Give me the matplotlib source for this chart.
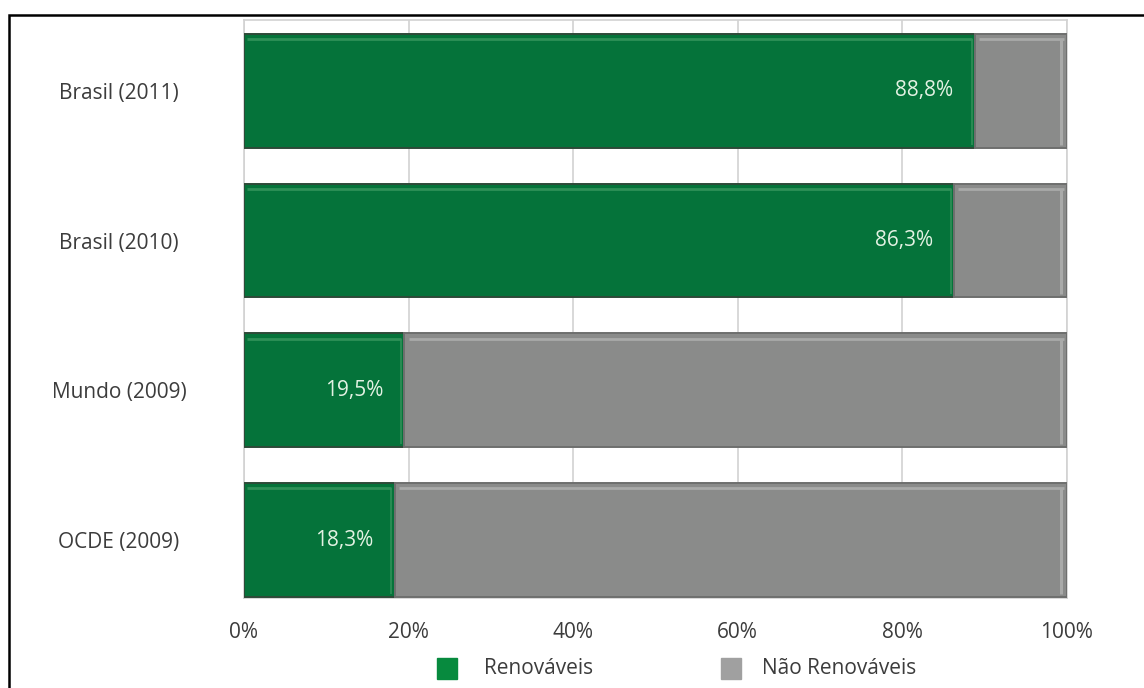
import matplotlib
matplotlib.use("Agg")
import matplotlib.pyplot as plt
from matplotlib.patches import Rectangle
from matplotlib.ticker import FixedLocator

# Participação de fontes renováveis na oferta interna de energia elétrica
categorias = ["OCDE (2009)", "Mundo (2009)", "Brasil (2010)", "Brasil (2011)"]
renovaveis = [18.3, 19.5, 86.3, 88.8]
nao_renovaveis = [100 - v for v in renovaveis]
rotulos = ["18,3%", "19,5%", "86,3%", "88,8%"]
ticks_x = [0, 20, 40, 60, 80, 100]
ticks_x_rotulos = ["0%", "20%", "40%", "60%", "80%", "100%"]

verde = "#05733a"
verde_claro = "#2f9158"
verde_escuro = "#2e4a38"
cinza = "#8a8b8a"
cinza_claro = "#a9aaa9"
cinza_escuro = "#6e6f6e"

plt.rcParams["font.family"] = ["Liberation Sans Narrow", "Open Sans", "DejaVu Sans"]
tam = 15
cor_texto = "#3c3c3c"

fig = plt.figure(figsize=(11.44, 6.88), dpi=100)
W, H = 1144, 688
ax = fig.add_axes([244 / W, 1 - 598 / H, (1067 - 244) / W, (598 - 20) / H])

altura = 0.76
y = list(range(len(categorias)))

ax.barh(y, renovaveis, height=altura, color=verde, edgecolor=verde_escuro,
        linewidth=1.4, zorder=3)
ax.barh(y, nao_renovaveis, left=renovaveis, height=altura, color=cinza,
        edgecolor=cinza_escuro, linewidth=1.4, zorder=3)

# brilho interno no topo e na lateral de cada segmento
for yi, r in zip(y, renovaveis):
    topo = yi + altura / 2 - 0.035
    ax.hlines(topo, 0.4, r - 0.4, color=verde_claro, lw=2.0, zorder=4)
    ax.vlines(r - 0.4, yi - altura / 2 + 0.02, topo, color=verde_claro, lw=1.2, zorder=4)
    ax.hlines(topo, r + 0.5, 99.6, color=cinza_claro, lw=2.0, zorder=4)
    ax.vlines(99.3, yi - altura / 2 + 0.02, topo, color=cinza_claro, lw=2.2, zorder=4)

for yi, r, txt in zip(y, renovaveis, rotulos):
    ax.text(r - 2.6, yi, txt, ha="right", va="center", color="#e3f2e3",
            fontsize=tam, zorder=5)

ax.set_xlim(0, 100)
ax.set_ylim(-0.387, 3.473)
ax.set_yticks(y)
ax.set_yticklabels(categorias, fontsize=tam, color=cor_texto)
ax.xaxis.set_major_locator(FixedLocator(ticks_x))
ax.set_xticklabels(ticks_x_rotulos, fontsize=tam, color=cor_texto)
ax.tick_params(axis="both", length=0)
ax.tick_params(axis="y", pad=90)
ax.tick_params(axis="x", pad=17)
for lbl in ax.get_yticklabels():
    lbl.set_horizontalalignment("center")
ax.grid(axis="x", color="#d2d2d2", lw=1.2, zorder=0)
for s in ax.spines.values():
    s.set_color("#d2d2d2")
    s.set_linewidth(1.2)

# legenda
fig.patches.append(Rectangle((437 / W, 1 - 679 / H), 20 / W, 21 / H,
                             transform=fig.transFigure, color="#078a3e"))
fig.text(484 / W, 1 - 669 / H, "Renováveis", fontsize=tam, color=cor_texto, va="center")
fig.patches.append(Rectangle((721 / W, 1 - 679 / H), 20 / W, 21 / H,
                             transform=fig.transFigure, color="#a0a0a0"))
fig.text(762 / W, 1 - 669 / H, "Não Renováveis", fontsize=tam, color=cor_texto, va="center")

# moldura
fig.patches.append(Rectangle((9 / W, -0.05), 1.2, 1 - 15 / H + 0.05,
                             transform=fig.transFigure, fill=False,
                             edgecolor="black", lw=1.8))

fig.savefig("out.png", dpi=100, facecolor="white")
